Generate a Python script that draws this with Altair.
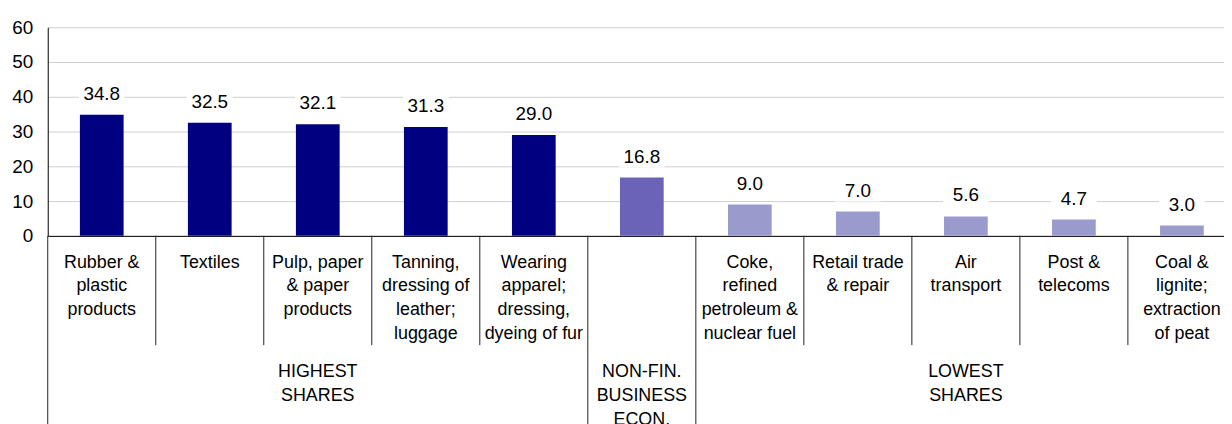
import altair as alt
import pandas as pd

categories = [
    "Rubber & plastic products", "Textiles", "Pulp, paper & paper products",
    "Tanning, dressing of leather; luggage", "Wearing apparel; dressing, dyeing of fur",
    "NON-FIN. BUSINESS ECON.", "Coke, refined petroleum & nuclear fuel",
    "Retail trade & repair", "Air transport", "Post & telecoms",
    "Coal & lignite; extraction of peat",
]
tick_labels = [
    "Rubber &\nplastic\nproducts", "Textiles", "Pulp, paper\n& paper\nproducts",
    "Tanning,\ndressing of\nleather;\nluggage", "Wearing\napparel;\ndressing,\ndyeing of fur",
    "", "Coke,\nrefined\npetroleum &\nnuclear fuel", "Retail trade\n& repair",
    "Air\ntransport", "Post &\ntelecoms", "Coal &\nlignite;\nextraction\nof peat",
]
values = [34.8, 32.5, 32.1, 31.3, 29.0, 16.8, 9.0, 7.0, 5.6, 4.7, 3.0]
groups = ["highest"] * 5 + ["total"] + ["lowest"] * 5
separators = ["full", "short", "short", "short", "short", "full", "full",
              "short", "short", "short", "short"]
group_labels = ["HIGHEST\nSHARES", "NON-FIN.\nBUSINESS\nECON.", "LOWEST\nSHARES"]
group_anchor = [categories[2], categories[5], categories[8]]

group_domain = ["highest", "total", "lowest"]
group_colors = ["#000080", "#6B63B8", "#9B9ACD"]

df = pd.DataFrame({
    "category": categories,
    "label": tick_labels,
    "value": values,
    "group": groups,
    "sep": separators,
    "vlabel": [f"{v:.1f}" for v in values],
})
gdf = pd.DataFrame({"category": group_anchor, "glabel": group_labels})

FONT = "Liberation Sans"
xscale = alt.Scale(domain=categories, paddingInner=0, paddingOuter=0)
xaxis = alt.Axis(labels=False, ticks=False, title=None, grid=False,
                 domainColor="black", domainWidth=1)
x_main = alt.X("category:N", scale=xscale, sort=categories, axis=xaxis)
x_edge = alt.X("category:N", scale=xscale, sort=categories, axis=xaxis, bandPosition=0)

yscale = alt.Scale(domain=[0, 60])
y_main = alt.Y("value:Q", scale=yscale,
               axis=alt.Axis(values=[0, 10, 20, 30, 40, 50, 60], grid=True,
                             gridColor="#CFCFCF", gridWidth=1, domainColor="black",
                             ticks=False, tickSize=0, labelPadding=15, labelFontSize=19,
                             labelFont=FONT, labelColor="black", title=None))

base = alt.Chart(df)

bars = base.mark_bar(size=44).encode(
    x=x_main, y=y_main,
    color=alt.Color("group:N", scale=alt.Scale(domain=group_domain, range=group_colors),
                    legend=None),
)
label_bg = base.mark_tick(color="white", thickness=22, size=46, yOffset=-21, opacity=1).encode(
    x=x_main, y=y_main,
)
value_text = base.mark_text(font=FONT, fontSize=19, color="black", baseline="alphabetic",
                            dy=-15).encode(x=x_main, y=y_main, text="vlabel:N")

short_rules = base.transform_filter(alt.datum.sep == "short").mark_rule(
    color="#222222", strokeWidth=1).encode(x=x_edge, y=alt.value(210), y2=alt.value(320))
full_rules = base.transform_filter(alt.datum.sep == "full").mark_rule(
    color="#222222", strokeWidth=1).encode(x=x_edge, y=alt.value(210), y2=alt.value(420))

cat_text = base.mark_text(font=FONT, fontSize=18, color="black", lineBreak="\n",
                          lineHeight=24, baseline="alphabetic", align="center").encode(
    x=x_main, y=alt.value(242), text="label:N")

group_text = alt.Chart(gdf).mark_text(font=FONT, fontSize=18, color="black", lineBreak="\n",
                                      lineHeight=24, baseline="alphabetic",
                                      align="center").encode(
    x=x_main, y=alt.value(352), text="glabel:N")

chart = alt.layer(bars, label_bg, value_text, short_rules, full_rules, cat_text, group_text).properties(
    width=1196, height=210,
    autosize=alt.AutoSizeParams(type="none"),
    padding={"left": 40, "top": 18, "right": -12, "bottom": 188},
    background="white",
).configure_view(stroke=None)

chart.save("out.html", embed_options={"renderer": "svg", "actions": False})
